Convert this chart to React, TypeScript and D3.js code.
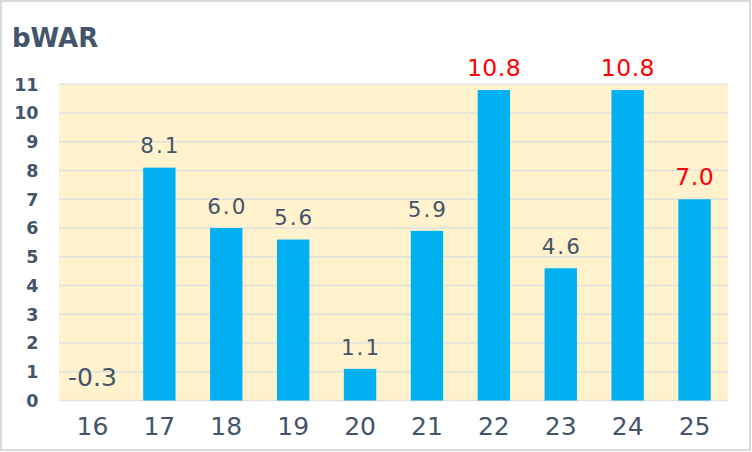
import React from "react";
import * as d3 from "d3";

const categories = ["16", "17", "18", "19", "20", "21", "22", "23", "24", "25"];
const values = [-0.3, 8.1, 6.0, 5.6, 1.1, 5.9, 10.8, 4.6, 10.8, 7.0];
const highlighted = ["22", "24", "25"];
const yTicks = [0, 1, 2, 3, 4, 5, 6, 7, 8, 9, 10, 11];
const title = "bWAR";

const W = 752;
const H = 452;
const plot = { left: 59, right: 728, top: 84.3, bottom: 400.5 };
const textColor = "#44546A";
const font = "'DejaVu Sans', sans-serif";

export default function App() {
  const x = d3
    .scaleBand<string>()
    .domain(categories)
    .range([plot.left, plot.right])
    .paddingInner(0.516)
    .paddingOuter(0.258);
  const y = d3.scaleLinear().domain([0, 11]).range([plot.bottom, plot.top]);

  return (
    <svg
      width={W}
      height={H}
      style={{ position: "absolute", left: 0, top: 0, display: "block" }}
    >
      <rect x={1} y={1} width={W - 3} height={H - 3} fill="#fff" stroke="#D9D9D9" strokeWidth={2} />
      <text x={12} y={46.5} fontFamily={font} fontWeight="bold" fontSize={26} fill={textColor}>
        {title}
      </text>
      <rect
        x={plot.left}
        y={plot.top}
        width={plot.right - plot.left}
        height={plot.bottom - plot.top}
        fill="#FFF2CC"
      />
      {yTicks.map((t) => (
        <g key={t}>
          <line x1={plot.left} x2={plot.right} y1={y(t)} y2={y(t)} stroke="#E0E0E0" strokeWidth={1.5} />
          <text
            x={38.5}
            y={y(t)}
            dy="0.36em"
            textAnchor="end"
            fontFamily={font}
            fontWeight="bold"
            fontSize={17.5}
            fill={textColor}
          >
            {t}
          </text>
        </g>
      ))}
      {categories.map((c, i) => {
        const v = values[i];
        const y0 = y(Math.max(0, v));
        const y1 = y(0);
        return <rect key={c} x={x(c)} y={y0} width={x.bandwidth()} height={Math.max(0, y1 - y0)} fill="#00B0F0" />;
      })}
      {categories.map((c, i) => {
        const v = values[i];
        const hl = highlighted.includes(c);
        const neg = v < 0;
        const cx = (x(c) as number) + x.bandwidth() / 2;
        const size = hl ? 23.5 : neg ? 25 : 21.5;
        const ls = hl ? 0.5 : neg ? 0 : 2;
        return (
          <g key={c}>
            <text
              x={cx + ls / 2}
              y={y(Math.max(0, v)) - 14.3}
              textAnchor="middle"
              fontFamily={font}
              fontSize={size}
              letterSpacing={ls}
              fill={hl ? "#FF0000" : textColor}
            >
              {v.toFixed(1)}
            </text>
            <text x={cx} y={435} textAnchor="middle" fontFamily={font} fontSize={25} fill={textColor}>
              {c}
            </text>
          </g>
        );
      })}
    </svg>
  );
}
